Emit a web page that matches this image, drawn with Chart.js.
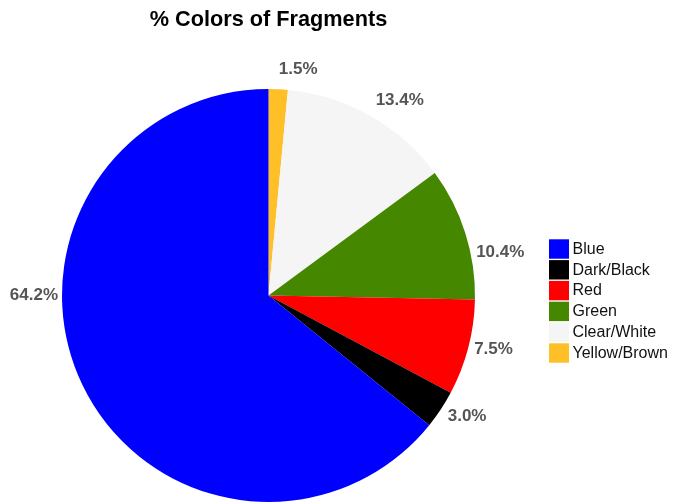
<!DOCTYPE html>
<html>
<head>
<meta charset="utf-8">
<title>% Colors of Fragments</title>
<script src="https://cdn.jsdelivr.net/npm/chart.js@4.4.0/dist/chart.umd.min.js"></script>
<style>
  html, body { margin: 0; padding: 0; background: #fff; }
  canvas { display: block; }
</style>
</head>
<body>
<canvas id="fragmentChart" width="673" height="503"></canvas>
<script>
// Fragment colours, listed in legend order
const colorNames = ['Blue', 'Dark/Black', 'Red', 'Green', 'Clear/White', 'Yellow/Brown'];
const percentages = [64.2, 3.0, 7.5, 10.4, 13.4, 1.5];
const sliceColors = ['#0000ff', '#000000', '#ff0000', '#458800', '#f5f5f5', '#ffbf26'];

const FONT = "'Liberation Sans', Arial, Helvetica, sans-serif";

// Slices run counter-clockwise from 12 o'clock, so Chart.js gets them reversed
const pieLabels = colorNames.slice().reverse();
const pieValues = percentages.slice().reverse();
const pieColors = sliceColors.slice().reverse();

// Pick where a slice's percentage goes: the middle of the arc, pulled
// towards 3 or 9 o'clock when the slice spans that point
function labelAngle(start, end, share) {
  const mid = (start + end) / 2;
  for (const ext of [0, Math.PI]) {
    if (start <= ext && ext <= end) {
      return share > 0.5 ? ext : (2 * mid + ext) / 3;
    }
  }
  return mid;
}

// Percentages drawn just outside the rim
const percentLabels = {
  id: 'percentLabels',
  afterDatasetsDraw(chart) {
    const ctx = chart.ctx;
    const meta = chart.getDatasetMeta(0);
    const values = chart.data.datasets[0].data;
    const total = values.reduce((a, b) => a + b, 0);
    const textHeight = 15;
    ctx.save();
    ctx.font = 'bold 17px ' + FONT;
    ctx.fillStyle = '#555555';
    ctx.textBaseline = 'middle';
    meta.data.forEach((arc, i) => {
      const p = arc.getProps(['x', 'y', 'startAngle', 'endAngle', 'outerRadius'], true);
      const angle = labelAngle(p.startAngle, p.endAngle, values[i] / total);
      const ux = Math.cos(angle);
      const uy = Math.sin(angle);
      const dist = p.outerRadius + 4 + 8 * Math.abs(uy);
      const px = p.x + dist * ux;
      const py = p.y + dist * uy;
      ctx.textAlign = ux >= 0 ? 'left' : 'right';
      ctx.fillText(values[i].toFixed(1) + '%', px, py + (textHeight / 2) * uy * Math.abs(uy));
    });
    ctx.restore();
  }
};

// Legend to the right of the pie, in the original colour order
const sideLegend = {
  id: 'sideLegend',
  afterDraw(chart) {
    const ctx = chart.ctx;
    const left = chart.chartArea.right + 12;
    const top = 239.3;
    const step = 20.8;
    const box = 20;
    ctx.save();
    ctx.font = '16px ' + FONT;
    ctx.textAlign = 'left';
    ctx.textBaseline = 'middle';
    colorNames.forEach((name, i) => {
      const y = top + i * step;
      ctx.fillStyle = sliceColors[i];
      ctx.fillRect(left, y, box, box - 0.6);
      ctx.fillStyle = '#111111';
      ctx.fillText(name, left + box + 3.5, y + box / 2);
    });
    ctx.restore();
  }
};

new Chart(document.getElementById('fragmentChart'), {
  type: 'pie',
  data: {
    labels: pieLabels,
    datasets: [{
      data: pieValues,
      backgroundColor: pieColors,
      borderWidth: 0,
      hoverOffset: 0
    }]
  },
  options: {
    responsive: false,
    animation: false,
    layout: {
      padding: { left: 0, right: 136, top: 0, bottom: 1 }
    },
    plugins: {
      legend: { display: false },
      tooltip: { enabled: false },
      title: {
        display: true,
        text: '% Colors of Fragments',
        color: '#000000',
        font: { family: FONT, size: 21.7, weight: 'bold' },
        padding: { top: 7.4, bottom: 55.6 }
      }
    }
  },
  plugins: [percentLabels, sideLegend]
});
</script>
</body>
</html>
